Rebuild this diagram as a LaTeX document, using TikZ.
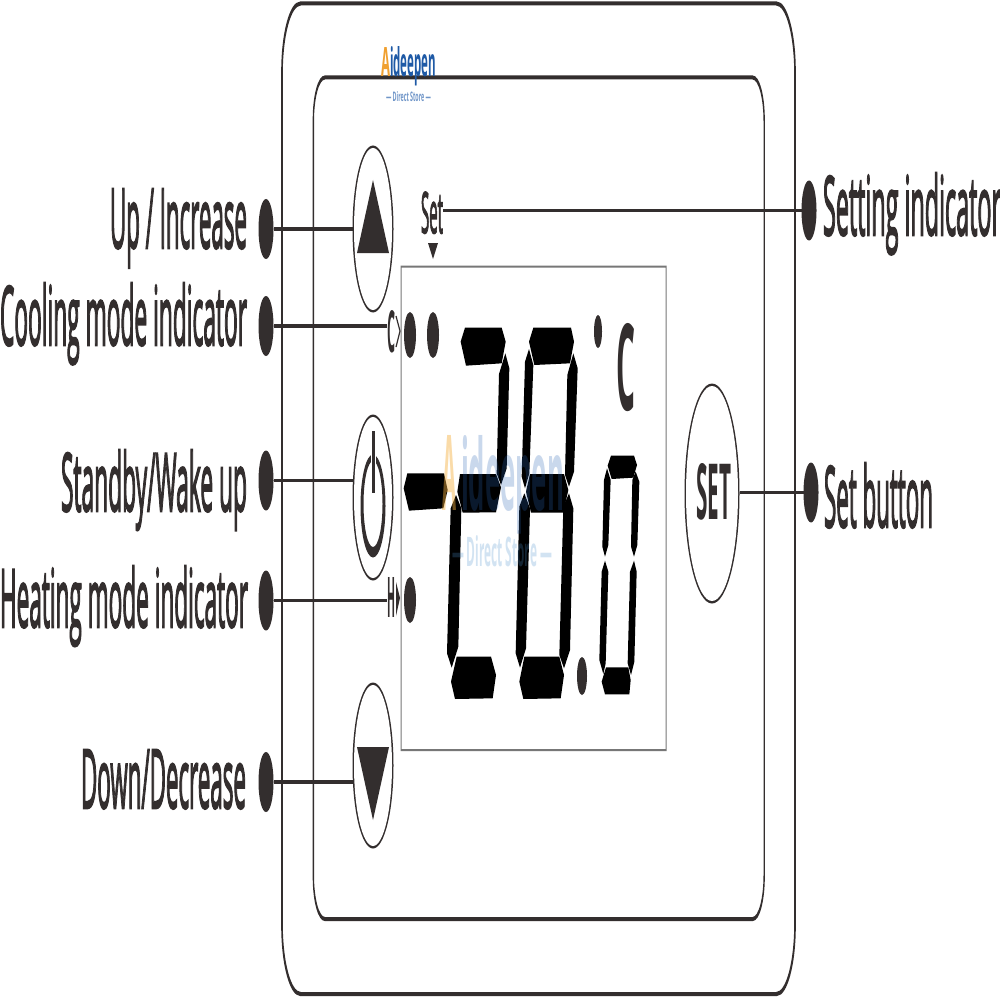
\documentclass[tikz,border=0pt]{standalone}
\usepackage{fontspec}
\setmainfont{Open Sans}
\newfontfamily\labfont{Open Sans}[FakeBold=3.2]
\usetikzlibrary{shapes.geometric}
\definecolor{ink}{HTML}{332E2E}
\definecolor{boxline}{HTML}{777777}
\definecolor{logoblue}{HTML}{1F5AA6}
\definecolor{logosoft}{HTML}{6F95C8}
\definecolor{logoorange}{HTML}{F0A030}
\definecolor{markblue}{HTML}{2A64B4}
\definecolor{marksoft}{HTML}{4F93CC}
\definecolor{markorange}{HTML}{F5B040}
\newcommand{\fitbox}[3]{\resizebox{#1pt}{#2pt}{#3}}
\newcommand{\roundframe}[6]{% l t r b rx ry
  (#1+#5,#2) -- (#3-#5,#2) arc[x radius=#5,y radius=#6,start angle=270,end angle=360]
  -- (#3,#4-#6) arc[x radius=#5,y radius=#6,start angle=0,end angle=90]
  -- (#1+#5,#4) arc[x radius=#5,y radius=#6,start angle=90,end angle=180]
  -- (#1,#2+#6) arc[x radius=#5,y radius=#6,start angle=180,end angle=270] -- cycle}
\tikzset{
  txt/.style={inner sep=0pt,outer sep=0pt,text=ink,font=\labfont},
  boldtxt/.style={inner sep=0pt,outer sep=0pt,text=ink,font=\bfseries},
  logotxt/.style={anchor=base west,inner sep=0pt,outer sep=0pt,font=\bfseries},
  dotmark/.style={ellipse,fill=ink,inner sep=0pt,outer sep=0pt,minimum width=#1},
  leader/.style={draw=ink,line width=3.3pt},
  btnrim/.style={ellipse,fill=ink,inner sep=0pt,outer sep=0pt},
  btnface/.style={ellipse,fill=white,inner sep=0pt,outer sep=0pt},
  seg/.style={fill=black},
  frameink/.style={fill=ink,even odd rule},
}
\begin{document}
\begin{tikzpicture}[x=1pt,y=-1pt]
\useasboundingbox (0,0) rectangle (1000,1000);
\fill[white] (0,0) rectangle (1000,1000);
% housing
\fill[frameink] \roundframe{281.2}{1.5}{795.8}{996}{19}{70} \roundframe{282.8}{5.5}{794.2}{992}{18}{68};
\fill[frameink] \roundframe{312.7}{75.5}{764.8}{921}{12}{44} \roundframe{314}{79.5}{763.5}{917}{11}{42};
% display window
\fill[boxline,even odd rule] (400.5,265.5) rectangle (666.5,751) (401.5,267.5) rectangle (665.5,749);
% buttons
\node[btnrim,minimum width=41pt,minimum height=167pt] (btnup) at (373,229) {};
\node[btnface,minimum width=38pt,minimum height=162pt] (faceup) at (373,229) {};
\fill[ink] (373,180) -- (389,253) -- (357,253) -- cycle;
\node[btnrim,minimum width=41pt,minimum height=166pt] (btnpower) at (373,497.5) {};
\node[btnface,minimum width=38pt,minimum height=161pt] (facepower) at (373,497.5) {};
\fill[ink,even odd rule] (373,506) ellipse[x radius=12.5,y radius=51.5] (373,504) ellipse[x radius=9.5,y radius=43];
\draw[white,line width=5pt] (373,440) -- (373,468);
\draw[ink,line width=3pt] (373,431) -- (373,493);
\node[btnrim,minimum width=41pt,minimum height=166pt] (btndown) at (373,765.5) {};
\node[btnface,minimum width=38pt,minimum height=161pt] (facedown) at (373,765.5) {};
\fill[ink] (357,747) -- (389,747) -- (373,820) -- cycle;
\node[btnrim,minimum width=55pt,minimum height=220pt] (btnset) at (712,493.5) {};
\node[btnface,minimum width=52pt,minimum height=215pt] (faceset) at (712,493.5) {};
\node[boldtxt,anchor=base west] (settext) at (696,519) {\fitbox{35}{56}{SET}};
% leader dots
\node[dotmark=15pt,minimum height=60pt] (dotup) at (266,229) {};
\node[dotmark=15pt,minimum height=60pt] (dotcool) at (266,326) {};
\node[dotmark=15pt,minimum height=60pt] (dotstand) at (266,480.5) {};
\node[dotmark=15pt,minimum height=60pt] (dotheat) at (266,600.5) {};
\node[dotmark=15pt,minimum height=60pt] (dotdown) at (266,782) {};
\node[dotmark=15pt,minimum height=60pt] (dotsetting) at (809,210.5) {};
\node[dotmark=15pt,minimum height=60pt] (dotsetbtn) at (811,492.5) {};
% labels
\node[txt,anchor=base west] (labup) at (110,248) {\fitbox{137}{59}{Up / Increase}};
\node[txt,anchor=base west] (labcool) at (0,345) {\fitbox{247}{62}{Cooling mode indicator}};
\node[txt,anchor=base west] (labstand) at (61,511) {\fitbox{186}{61}{Standby/Wake up}};
\node[txt,anchor=base west] (labheat) at (0,627) {\fitbox{248}{61}{Heating mode indicator}};
\node[txt,anchor=base west] (labdown) at (81,808) {\fitbox{165}{58}{Down/Decrease}};
\node[txt,anchor=base west] (labsetting) at (823,235) {\fitbox{178}{62}{Setting indicator}};
\node[txt,anchor=base west] (labsetbtn) at (824,527) {\fitbox{109}{64}{Set button}};
% small marks beside the display
\node[txt,anchor=base west] (setmark) at (421,233) {\fitbox{22}{41}{Set}};
\fill[ink] (428,243) -- (438,243) -- (433,259) -- cycle;
\node[boldtxt,anchor=base west] (cmark) at (387,352) {\fitbox{8}{42}{C}};
\draw[ink,line width=1.2pt] (396,316) -- (400,331) -- (396,347);
\node[boldtxt,anchor=base west] (hmark) at (387,617) {\fitbox{8}{40}{H}};
\fill[ink] (396,582) -- (400,598) -- (396,616) -- cycle;
% connectors
\draw[leader] (dotup) -- (dotup -| btnup.west);
\draw[leader] (dotcool) -- (dotcool -| cmark.west);
\draw[leader] (dotstand) -- (dotstand -| btnpower.west);
\draw[leader] (dotheat) -- (dotheat -| hmark.west);
\draw[leader] (dotdown) -- (dotdown -| btndown.west);
\draw[leader] (dotsetting) -- (dotsetting -| setmark.east);
\draw[leader] (dotsetbtn) -- (dotsetbtn -| btnset.east);
% indicators
\node[dotmark=12pt,minimum height=46pt] (ledone) at (410,335) {};
\node[dotmark=12pt,minimum height=46pt] (ledtwo) at (433,335) {};
\node[dotmark=12pt,minimum height=46pt] (ledheat) at (410,600) {};
\node[dotmark=8pt,minimum height=33pt] (degdot) at (598,331.5) {};
\node[dotmark=10pt,minimum height=38pt] (decdot) at (582,676) {};
\node[boldtxt,anchor=base west] (degc) at (616,410) {\fitbox{19}{87}{C}};
% LCD segments, in 3x zoom units from (400,300)
\begin{scope}[shift={(400,300)},x=0.33333pt,y=-0.33333pt]
\fill[seg] (22,520)--(132,520)--(143,570)--(130,625)--(27,632)--(11,565)--cycle;
% digit 2
\fill[seg] (195,83)--(305,83)--(317,125)--(305,190)--(198,197)--(182,125)--cycle;
\fill[seg] (316,160)--(328,205)--(320,505)--(303,555)--(290,520)--(297,222)--cycle;
\fill[seg] (180,522)--(288,522)--(303,562)--(288,637)--(188,638)--(172,575)--cycle;
\fill[seg] (168,585)--(184,625)--(175,1040)--(155,1103)--(141,1060)--(152,625)--cycle;
\fill[seg] (170,1070)--(273,1070)--(288,1125)--(278,1195)--(165,1197)--(153,1145)--cycle;
% digit 8
\fill[seg] (400,83)--(513,83)--(522,125)--(510,190)--(403,195)--(387,125)--cycle;
\fill[seg] (387,147)--(400,195)--(388,520)--(375,565)--(365,530)--(375,185)--cycle;
\fill[seg] (520,160)--(533,205)--(522,515)--(507,560)--(495,525)--(502,225)--cycle;
\fill[seg] (390,522)--(492,522)--(505,570)--(490,638)--(393,638)--(378,575)--cycle;
\fill[seg] (373,580)--(390,625)--(378,1045)--(360,1103)--(347,1060)--(358,620)--cycle;
\fill[seg] (507,580)--(520,625)--(510,1050)--(492,1105)--(478,1065)--(490,620)--cycle;
\fill[seg] (373,1070)--(478,1070)--(492,1125)--(482,1195)--(370,1197)--(358,1145)--cycle;
% digit 0
\fill[seg] (633,467)--(702,467)--(711,495)--(700,533)--(635,537)--(623,497)--cycle;
\fill[seg] (621,505)--(632,540)--(625,735)--(615,770)--(607,740)--(612,540)--cycle;
\fill[seg] (707,515)--(718,545)--(712,735)--(702,770)--(693,740)--(697,540)--cycle;
\fill[seg] (615,782)--(625,815)--(617,1090)--(610,1122)--(598,1080)--(605,815)--cycle;
\fill[seg] (702,782)--(710,815)--(703,1085)--(693,1125)--(683,1090)--(690,815)--cycle;
\fill[seg] (618,1102)--(685,1102)--(692,1140)--(688,1183)--(615,1183)--(605,1145)--cycle;
\end{scope}
% centre watermark, translucent over the segments
\node[logotxt,text=markblue,text opacity=.25] (markname) at (461,510) {\fitbox{103}{75}{ideepen}};
\node[logotxt,text=marksoft,text opacity=.25] (markstore) at (452,566) {\fitbox{100}{31}{— Direct Store —}};
\node[logotxt,text=markorange,text opacity=.45] (markA) at (442,510) {\fitbox{14}{75}{A}};
% top logo
\node[logotxt,text=logoorange] (logoA) at (381,77) {\fitbox{9}{29}{A}};
\node[logotxt,text=logoblue] (logoname) at (390,77) {\fitbox{46}{30}{ideepen}};
\node[logotxt,text=logosoft] (logostore) at (386,102) {\fitbox{45}{10}{— Direct Store —}};
\end{tikzpicture}
\end{document}
